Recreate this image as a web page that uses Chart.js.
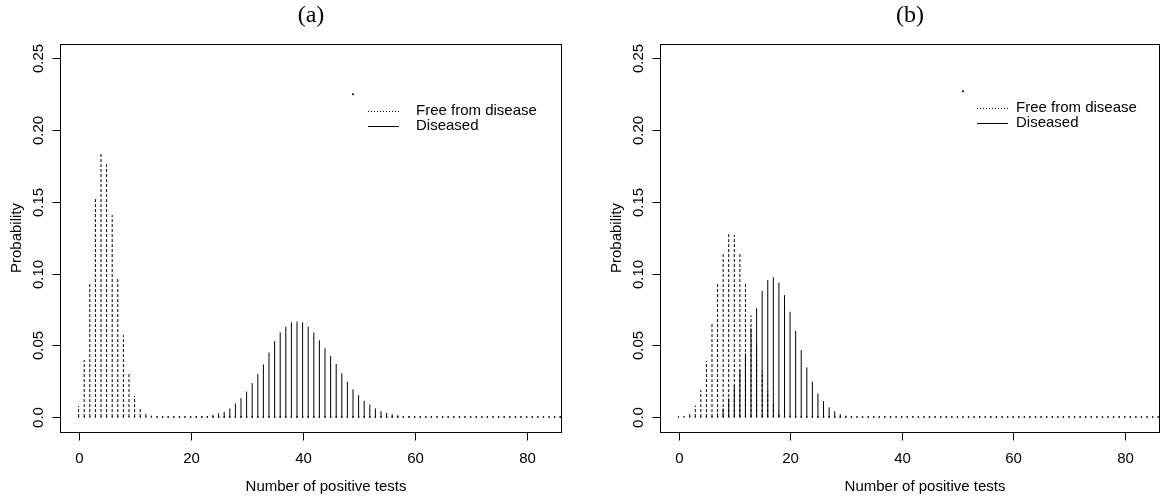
<!DOCTYPE html>
<html>
<head>
<meta charset="utf-8">
<script src="https://cdn.jsdelivr.net/npm/chart.js@4.4.1/dist/chart.umd.min.js"></script>
<style>
  html, body { margin: 0; padding: 0; background: #fff; }
  #wrap { position: relative; width: 1164px; height: 499px; overflow: hidden; }
  #wrap canvas { position: absolute; top: 0; }
</style>
</head>
<body>
<div id="wrap">
  <canvas id="panelA" width="582" height="499" style="left:0px"></canvas>
  <canvas id="panelB" width="582" height="499" style="left:582px"></canvas>
</div>
<script>
// ---- data -------------------------------------------------------------
// number of positive tests: 0 .. 90
const positives = Array.from({ length: 91 }, (_, k) => k);

// panel (a): probabilities listed from 0 positives upward; later counts are ~0
const freeA = [0.0077, 0.0397, 0.0943, 0.152, 0.1833, 0.1763, 0.1408, 0.0967,
               0.0571, 0.0309, 0.0146, 0.0065, 0.0025, 0.001];
const diseasedA = [0, 0, 0, 0, 0, 0, 0, 0, 0, 0,
                   0, 0, 0, 0, 0, 0, 0, 0, 0, 0,
                   0.0002, 0.0003, 0.0005, 0.0008, 0.0015, 0.0026, 0.0037, 0.006, 0.0095, 0.0132,
                   0.0178, 0.0237, 0.030, 0.0367, 0.045, 0.053, 0.059, 0.063, 0.066, 0.0665,
                   0.066, 0.063, 0.059, 0.0535, 0.048, 0.0425, 0.037, 0.0305, 0.0246, 0.0193,
                   0.0153, 0.0114, 0.0088, 0.006, 0.0042, 0.003, 0.002, 0.0013, 0.0008, 0.0005,
                   0.0003];

// panel (b)
const freeB = [0.0003, 0.0005, 0.002, 0.008, 0.019, 0.039, 0.065, 0.0927, 0.115, 0.128,
               0.127, 0.1136, 0.0936, 0.0709, 0.05, 0.032, 0.018, 0.009, 0.004, 0.002,
               0.001];
const diseasedB = [0, 0, 0, 0, 0, 0.0004, 0.001, 0.0025, 0.006, 0.013,
                   0.022, 0.0328, 0.0444, 0.0618, 0.0758, 0.088, 0.0955, 0.0974, 0.0936, 0.085,
                   0.0734, 0.0601, 0.0467, 0.0346, 0.0246, 0.0165, 0.0112, 0.0068, 0.004, 0.002,
                   0.001, 0.0005];

const xTicks = [0, 20, 40, 60, 80];
const yTicks = [0, 0.05, 0.10, 0.15, 0.20, 0.25];
const yTickLabels = ['0.0', '0.05', '0.10', '0.15', '0.20', '0.25'];
const legendLabels = ['Free from disease', 'Diseased'];
const legendAnchorA = [49, 0.225];
const legendAnchorB = [51, 0.227];
const panelTitles = ['(a)', '(b)'];
const xTitle = 'Number of positive tests';
const yTitle = 'Probability';

// ---- helpers ----------------------------------------------------------
// vertical spikes (R type = "h"): each count becomes base -> top, then a gap
function spikes(values) {
  const pts = [];
  positives.forEach(k => {
    const v = k < values.length ? values[k] : 0;
    pts.push({ x: k, y: 0 }, { x: k, y: v }, { x: k, y: null });
  });
  return pts;
}

const SANS = '"Liberation Sans", Arial, Helvetica, sans-serif';
const SERIF = '"Liberation Serif", "Times New Roman", serif';

const framePlugin = {
  id: 'frame',
  afterDraw(chart, args, opts) {
    const { ctx, chartArea: a, scales: { x, y } } = chart;
    ctx.save();
    ctx.strokeStyle = '#000';
    ctx.fillStyle = '#000';
    ctx.lineWidth = 1;

    // plot box
    ctx.strokeRect(Math.round(a.left) + 0.5, Math.round(a.top) + 0.5,
                   Math.round(a.right - a.left) - 1, Math.round(a.bottom - a.top));

    // x axis ticks and labels
    ctx.font = '15px ' + SANS;
    ctx.textAlign = 'center';
    ctx.textBaseline = 'middle';
    const bottom = Math.round(a.bottom) + 0.5;
    xTicks.forEach(v => {
      const px = Math.round(x.getPixelForValue(v)) + 0.5;
      ctx.beginPath();
      ctx.moveTo(px, bottom);
      ctx.lineTo(px, bottom + 8);
      ctx.stroke();
      ctx.fillText(String(v), px, a.bottom + 27);
    });

    // y axis ticks and rotated labels
    const left = Math.round(a.left) + 0.5;
    yTicks.forEach((v, i) => {
      const py = Math.round(y.getPixelForValue(v)) + 0.5;
      ctx.beginPath();
      ctx.moveTo(left - 8, py);
      ctx.lineTo(left, py);
      ctx.stroke();
      ctx.save();
      ctx.translate(a.left - 21, py);
      ctx.rotate(-Math.PI / 2);
      ctx.fillText(yTickLabels[i], 0, 0);
      ctx.restore();
    });

    // axis titles
    const cx = (a.left + a.right) / 2;
    const cy = (a.top + a.bottom) / 2;
    ctx.font = '15px ' + SANS;
    ctx.fillText(xTitle, cx + opts.xTitleShift, a.bottom + 55);
    ctx.save();
    ctx.translate(a.left - 43, cy);
    ctx.rotate(-Math.PI / 2);
    ctx.fillText(yTitle, 0, 0);
    ctx.restore();

    // panel title
    ctx.font = '24px ' + SERIF;
    ctx.fillText(opts.title, cx, 16);

    // legend, placed from its anchor point
    const ax = x.getPixelForValue(opts.anchor[0]);
    const ay = y.getPixelForValue(opts.anchor[1]);
    const rows = [ay + 17, ay + 32];
    const [l0, l1, t0] = opts.legendOffsets;
    ctx.lineWidth = 1;
    ctx.beginPath();
    ctx.setLineDash([1, 2]);
    ctx.moveTo(ax + l0, Math.round(rows[0]) + 0.5);
    ctx.lineTo(ax + l1, Math.round(rows[0]) + 0.5);
    ctx.stroke();
    ctx.setLineDash([]);
    ctx.beginPath();
    ctx.moveTo(ax + l0, Math.round(rows[1]) + 0.5);
    ctx.lineTo(ax + l1, Math.round(rows[1]) + 0.5);
    ctx.stroke();
    ctx.font = '15px ' + SANS;
    ctx.textAlign = 'left';
    ctx.fillText(legendLabels[0], ax + t0, rows[0]);
    ctx.fillText(legendLabels[1], ax + t0, rows[1]);
    ctx.restore();
  }
};

function makePanel(id, free, diseased, anchor, title, padLeft, padRight, legendOffsets) {
  return new Chart(document.getElementById(id), {
    type: 'line',
    data: {
      datasets: [
        {
          label: legendLabels[1],
          data: spikes(diseased),
          borderColor: '#000',
          borderWidth: 1,
          pointRadius: 0,
          spanGaps: false,
          tension: 0
        },
        {
          label: legendLabels[0],
          data: spikes(free),
          borderColor: '#000',
          borderWidth: 1,
          borderDash: [3, 2],
          spanGaps: false,
          tension: 0,
          // small dot at the foot of every spike
          pointRadius: ctx => (ctx.raw && ctx.raw.y === 0 ? 0.75 : 0),
          pointBorderWidth: 0,
          pointBackgroundColor: '#000'
        },
        {
          // legend anchor dot
          type: 'scatter',
          data: [{ x: anchor[0], y: anchor[1] }],
          pointRadius: 1,
          pointBorderWidth: 0,
          pointBackgroundColor: '#000'
        }
      ]
    },
    options: {
      responsive: false,
      animation: false,
      devicePixelRatio: 1,
      events: [],
      layout: { padding: { left: padLeft, right: padRight, top: 44, bottom: 67 } },
      scales: {
        x: { type: 'linear', min: -3.32, max: 86.32, display: false },
        y: { type: 'linear', min: -0.0104, max: 0.26, display: false }
      },
      plugins: {
        legend: { display: false },
        tooltip: { enabled: false },
        frame: { title: title, anchor: anchor, legendOffsets: legendOffsets, xTitleShift: 15 }
      }
    },
    plugins: [framePlugin]
  });
}

makePanel('panelA', freeA, diseasedA, legendAnchorA, panelTitles[0], 60, 20, [15, 46, 63]);
makePanel('panelB', freeB, diseasedB, legendAnchorB, panelTitles[1], 78, 0, [14, 45, 53]);
</script>
</body>
</html>
